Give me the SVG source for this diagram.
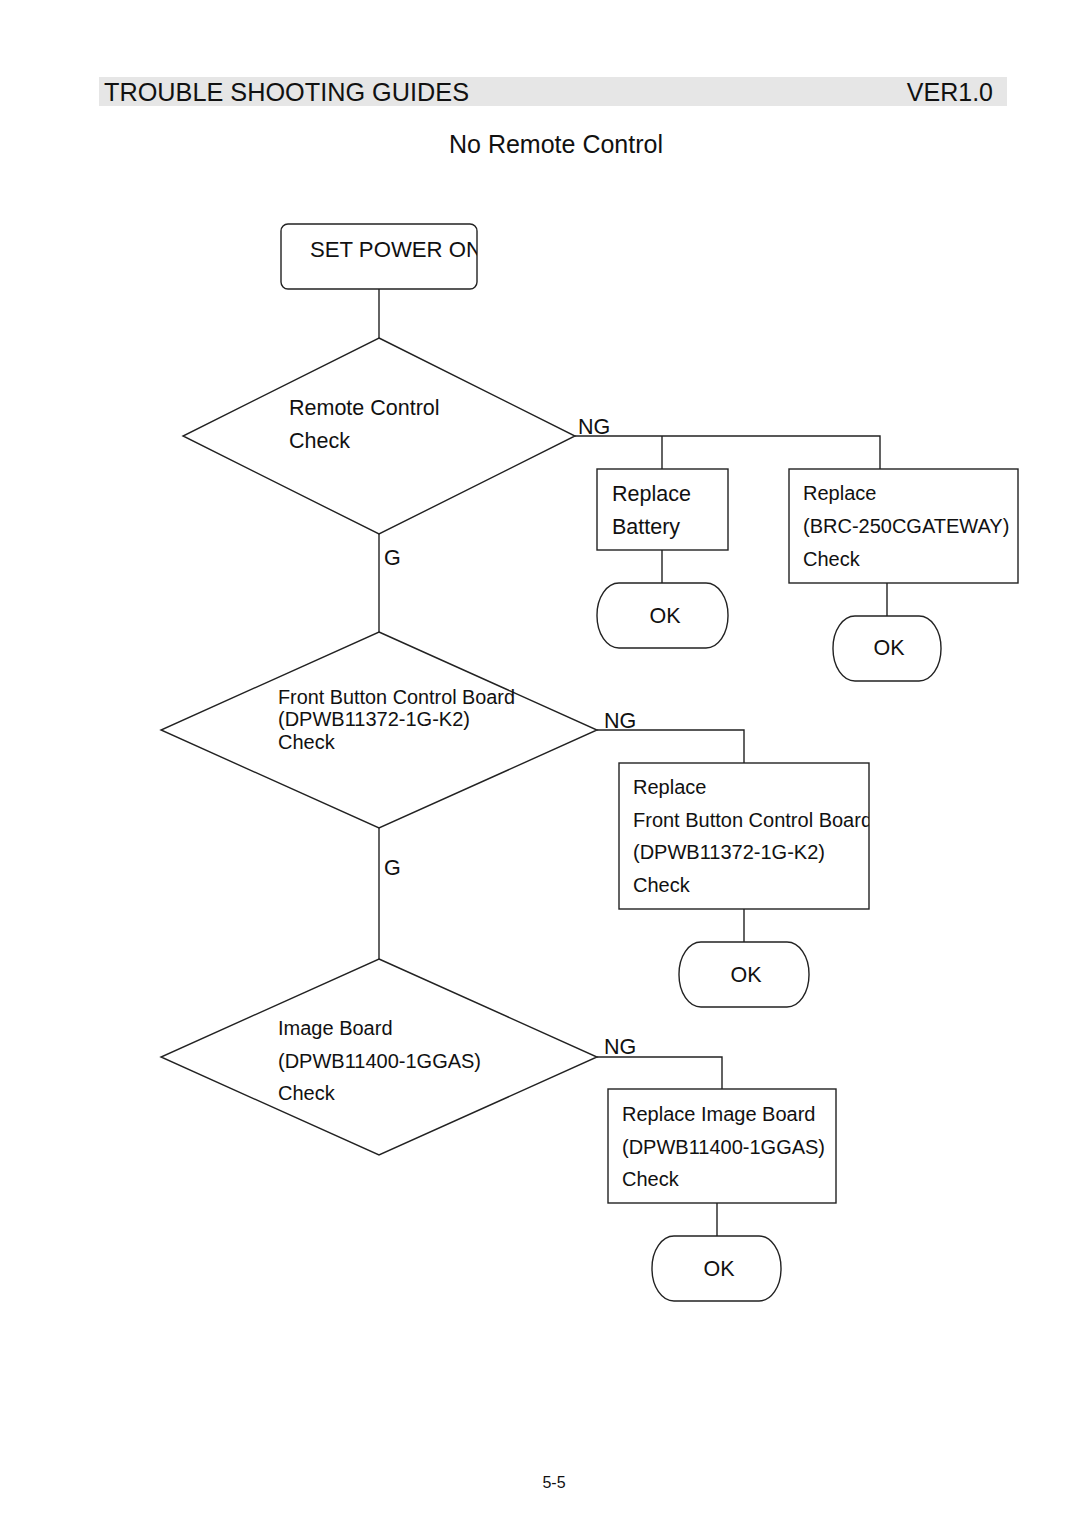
<svg xmlns="http://www.w3.org/2000/svg" width="1080" height="1528" viewBox="0 0 1080 1528">
<style>
text{font-family:"Liberation Sans",Arial,sans-serif;fill:#111}
.s{fill:#fff;stroke:#222;stroke-width:1.4}
.c{fill:none;stroke:#222;stroke-width:1.4}
.t21{font-size:21.5px}
.t20{font-size:20px}
</style>
<defs>
<clipPath id="clipPower"><rect x="281" y="224" width="196" height="65"/></clipPath>
<clipPath id="clipFB"><rect x="619" y="763" width="250" height="146"/></clipPath>
</defs>
<rect x="99" y="77" width="908" height="29" fill="#e6e6e6"/>
<text x="104" y="101" font-size="25" textLength="365" lengthAdjust="spacingAndGlyphs">TROUBLE SHOOTING GUIDES</text>
<text x="993" y="101" font-size="25" text-anchor="end">VER1.0</text>
<text x="556" y="153" font-size="25" text-anchor="middle">No Remote Control</text>

<g id="connectors">
<path class="c" d="M379 289V338"/>
<path class="c" d="M575 436H880V469"/>
<path class="c" d="M662 436V469"/>
<path class="c" d="M662 550V583"/>
<path class="c" d="M887 583V616"/>
<path class="c" d="M379 534V632"/>
<path class="c" d="M597 730H744V763"/>
<path class="c" d="M744 909V942"/>
<path class="c" d="M379 828V959"/>
<path class="c" d="M597 1057H722V1089"/>
<path class="c" d="M717 1203V1236"/>
<text x="578" y="434" class="t21">NG</text>
<text x="384" y="565" class="t21">G</text>
<text x="604" y="728" class="t21">NG</text>
<text x="384" y="875" class="t21">G</text>
<text x="604" y="1054" class="t21">NG</text>
</g>

<g id="start">
<rect class="s" x="281" y="224" width="196" height="65" rx="7"/>
<text x="310" y="257" clip-path="url(#clipPower)" style="font-size:21.5px" textLength="172" lengthAdjust="spacingAndGlyphs">SET POWER ON</text>
</g>

<g id="d1">
<polygon class="s" points="379,338 575,436 379,534 183,436"/>
<text x="289" y="415" class="t21">Remote Control</text>
<text x="289" y="448" class="t21">Check</text>
</g>

<g id="battery">
<rect class="s" x="597" y="469" width="131" height="81"/>
<text x="612" y="501" class="t21">Replace</text>
<text x="612" y="534" class="t21">Battery</text>
</g>
<g id="ok1">
<rect class="s" x="597" y="583" width="131" height="65" rx="22" ry="32"/>
<text x="665" y="623" class="t21" text-anchor="middle">OK</text>
</g>

<g id="gateway">
<rect class="s" x="789" y="469" width="229" height="114"/>
<text x="803" y="500" class="t20">Replace</text>
<text x="803" y="533" class="t20">(BRC-250CGATEWAY)</text>
<text x="803" y="566" class="t20">Check</text>
</g>
<g id="ok2">
<rect class="s" x="833" y="616" width="108" height="65" rx="22" ry="32"/>
<text x="889" y="655" class="t21" text-anchor="middle">OK</text>
</g>

<g id="d2">
<polygon class="s" points="379,632 597,730 379,828 161,730"/>
<text x="278" y="704" class="t20" textLength="237" lengthAdjust="spacingAndGlyphs">Front Button Control Board</text>
<text x="278" y="726" class="t20">(DPWB11372-1G-K2)</text>
<text x="278" y="749" class="t20">Check</text>
</g>

<g id="frontboard">
<rect class="s" x="619" y="763" width="250" height="146"/>
<text x="633" y="794" class="t20">Replace</text>
<text x="633" y="827" class="t20" clip-path="url(#clipFB)">Front Button Control Board</text>
<text x="633" y="859" class="t20">(DPWB11372-1G-K2)</text>
<text x="633" y="892" class="t20">Check</text>
</g>
<g id="ok3">
<rect class="s" x="679" y="942" width="130" height="65" rx="22" ry="32"/>
<text x="746" y="982" class="t21" text-anchor="middle">OK</text>
</g>

<g id="d3">
<polygon class="s" points="379,959 597,1057 379,1155 161,1057"/>
<text x="278" y="1035" class="t20">Image Board</text>
<text x="278" y="1068" class="t20">(DPWB11400-1GGAS)</text>
<text x="278" y="1100" class="t20">Check</text>
</g>

<g id="imageboard">
<rect class="s" x="608" y="1089" width="228" height="114"/>
<text x="622" y="1121" class="t20">Replace Image Board</text>
<text x="622" y="1154" class="t20">(DPWB11400-1GGAS)</text>
<text x="622" y="1186" class="t20">Check</text>
</g>
<g id="ok4">
<rect class="s" x="652" y="1236" width="129" height="65" rx="22" ry="32"/>
<text x="719" y="1276" class="t21" text-anchor="middle">OK</text>
</g>

<text x="554" y="1488" font-size="16" text-anchor="middle">5-5</text>
</svg>
